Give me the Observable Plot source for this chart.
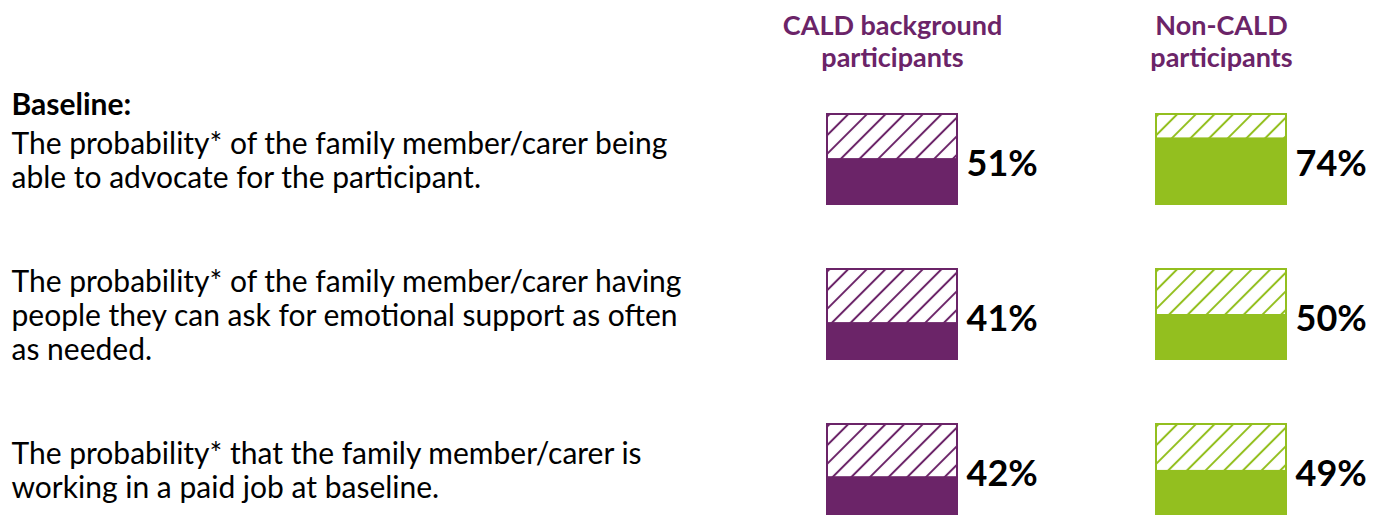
<!DOCTYPE html>
<html>
<head>
<meta charset="utf-8">
<script src="https://cdn.jsdelivr.net/npm/d3@7"></script>
<script src="https://cdn.jsdelivr.net/npm/@observablehq/plot@0.6"></script>
<style>
  html, body { margin: 0; padding: 0; background: #ffffff; }
  #chart svg { display: block; }
</style>
</head>
<body>
<div id="chart"></div>
<script>
// ---- data ----
const rowIds = ["advocate", "emotional support", "paid job"];
const questions = [
  "The probability* of the family member/carer being\nable to advocate for the participant.",
  "The probability* of the family member/carer having\npeople they can ask for emotional support as often\nas needed.",
  "The probability* that the family member/carer is\nworking in a paid job at baseline."
];
const sectionHeading = "Baseline:";
const groups = ["CALD background participants", "Non-CALD participants"];
const groupHeaders = ["CALD background\nparticipants", "Non-CALD\nparticipants"];
const caldValues = [51, 41, 42];
const nonCaldValues = [74, 50, 49];
const groupColors = ["#6b2468", "#93bf1f"];
const headerColor = "#6b2468";
const totalPercent = 100;

// ---- derived tables ----
const seriesValues = [caldValues, nonCaldValues];
const bars = groups.flatMap((g, gi) => rowIds.map((r, ri) => ({
  group: g, gi, row: r, value: seriesValues[gi][ri], total: totalPercent
})));
const questionData = rowIds.map((r, i) => ({row: r, group: groups[0], text: questions[i]}));
const headingData = [{row: rowIds[0], group: groups[0], text: sectionHeading}];
const headerData = groups.map((g, i) => ({group: g, row: rowIds[0], text: groupHeaders[i]}));

// ---- hatch patterns ----
const defs = d3.select("body").append("svg")
  .attr("width", 0).attr("height", 0)
  .style("position", "absolute").style("left", 0).style("top", 0)
  .append("defs");
groupColors.forEach((c, i) => {
  const s = 13.2;
  const p = defs.append("pattern")
    .attr("id", "hatch-" + i)
    .attr("patternUnits", "userSpaceOnUse")
    .attr("width", s).attr("height", s)
    .attr("patternTransform", "rotate(45)");
  p.append("rect").attr("width", s).attr("height", s).attr("fill", "#ffffff");
  p.append("line").attr("x1", s / 2).attr("x2", s / 2).attr("y1", 0).attr("y2", s)
    .attr("stroke", c).attr("stroke-width", 2);
});

const font = "Lato, 'Open Sans', sans-serif";

const barMarks = groups.flatMap((g, gi) => {
  const d = bars.filter(b => b.gi === gi);
  return [
    Plot.barY(d, {fx: "group", fy: "row", x: () => "bar", y: "total", fill: `url(#hatch-${gi})`}),
    Plot.barY(d, {fx: "group", fy: "row", x: () => "bar", y: "value", fill: groupColors[gi]}),
    Plot.barY(d, {fx: "group", fy: "row", x: () => "bar", y: "total", fill: "none", stroke: groupColors[gi], strokeWidth: 2})
  ];
});

const chart = Plot.plot({
  width: 1373,
  height: 515,
  marginLeft: 827,
  marginRight: 87,
  marginTop: 113,
  marginBottom: 0,
  fx: {domain: groups, axis: null, paddingInner: 0.606, paddingOuter: 0},
  fy: {domain: rowIds, axis: null, paddingInner: 0.42, paddingOuter: 0},
  x: {axis: null, padding: 0},
  y: {axis: null, domain: [0, 100]},
  style: {fontFamily: font, background: "#ffffff", overflow: "visible"},
  marks: [
    ...barMarks,
    Plot.text(bars, {
      fx: "group", fy: "row", frameAnchor: "right", textAnchor: "start",
      dx: 9, dy: 5, text: d => d.value + "%",
      fontSize: 36, fontWeight: "bold", fill: "#000000", fontFamily: font
    }),
    Plot.text(headerData, {
      fx: "group", fy: "row", frameAnchor: "top", lineAnchor: "bottom",
      dy: -48, text: "text", fontSize: 27, fontWeight: "bold",
      fill: headerColor, lineHeight: 1.17, fontFamily: font
    }),
    Plot.text(questionData, {
      fx: "group", fy: "row", frameAnchor: "left", textAnchor: "start",
      lineAnchor: "middle", dx: -816, dy: 1, text: "text", fontSize: 30,
      lineHeight: 1.13, fill: "#000000", fontFamily: font
    }),
    Plot.text(headingData, {
      fx: "group", fy: "row", frameAnchor: "left", textAnchor: "start",
      lineAnchor: "middle", dx: -816, dy: -54, text: "text", fontSize: 30,
      fontWeight: "bold", fill: "#000000", fontFamily: font
    })
  ]
});
document.getElementById("chart").appendChild(chart);
</script>
</body>
</html>
